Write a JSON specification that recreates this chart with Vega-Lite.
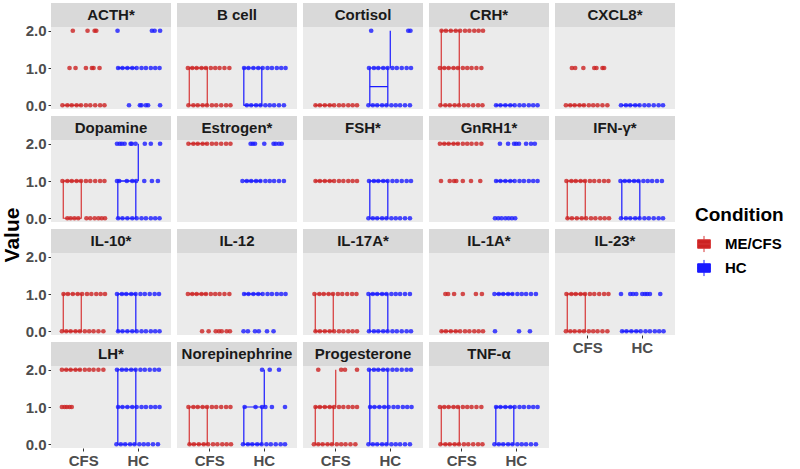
{
"$schema": "https://vega.github.io/schema/vega-lite/v6.json",
"padding": {"left": 2, "top": 2, "right": 0, "bottom": 0},
"autosize": {"type": "pad"},
"title": {"text": "Value", "orient": "left", "anchor": "middle", "fontSize": 21, "fontWeight": "bold", "font": "Liberation Sans", "color": "#000000", "offset": 2},
"data": {"values": [
{"m":"ACTH*","c":"CFS","lo":0,"q1":0,"md":0,"q3":0,"hi":0},
{"m":"ACTH*","c":"HC","lo":1,"q1":1,"md":1,"q3":1,"hi":1},
{"m":"B cell","c":"CFS","lo":0,"q1":0,"md":1,"q3":1,"hi":1},
{"m":"B cell","c":"HC","lo":0,"q1":0,"md":0,"q3":1,"hi":1},
{"m":"Cortisol","c":"CFS","lo":0,"q1":0,"md":0,"q3":0,"hi":0},
{"m":"Cortisol","c":"HC","lo":0,"q1":0,"md":0.5,"q3":1,"hi":2},
{"m":"CRH*","c":"CFS","lo":0,"q1":0,"md":1,"q3":2,"hi":2},
{"m":"CRH*","c":"HC","lo":0,"q1":0,"md":0,"q3":0,"hi":0},
{"m":"CXCL8*","c":"CFS","lo":0,"q1":0,"md":0,"q3":0,"hi":0},
{"m":"CXCL8*","c":"HC","lo":0,"q1":0,"md":0,"q3":0,"hi":0},
{"m":"Dopamine","c":"CFS","lo":0,"q1":0,"md":1,"q3":1,"hi":1},
{"m":"Dopamine","c":"HC","lo":0,"q1":0,"md":1,"q3":1,"hi":2},
{"m":"Estrogen*","c":"CFS","lo":2,"q1":2,"md":2,"q3":2,"hi":2},
{"m":"Estrogen*","c":"HC","lo":1,"q1":1,"md":1,"q3":1,"hi":1},
{"m":"FSH*","c":"CFS","lo":1,"q1":1,"md":1,"q3":1,"hi":1},
{"m":"FSH*","c":"HC","lo":0,"q1":0,"md":1,"q3":1,"hi":1},
{"m":"GnRH1*","c":"CFS","lo":2,"q1":2,"md":2,"q3":2,"hi":2},
{"m":"GnRH1*","c":"HC","lo":1,"q1":1,"md":1,"q3":1,"hi":1},
{"m":"IFN-γ*","c":"CFS","lo":0,"q1":0,"md":1,"q3":1,"hi":1},
{"m":"IFN-γ*","c":"HC","lo":0,"q1":0,"md":1,"q3":1,"hi":1},
{"m":"IL-10*","c":"CFS","lo":0,"q1":0,"md":0,"q3":1,"hi":1},
{"m":"IL-10*","c":"HC","lo":0,"q1":0,"md":1,"q3":1,"hi":1},
{"m":"IL-12","c":"CFS","lo":1,"q1":1,"md":1,"q3":1,"hi":1},
{"m":"IL-12","c":"HC","lo":1,"q1":1,"md":1,"q3":1,"hi":1},
{"m":"IL-17A*","c":"CFS","lo":0,"q1":0,"md":0,"q3":1,"hi":1},
{"m":"IL-17A*","c":"HC","lo":0,"q1":0,"md":1,"q3":1,"hi":1},
{"m":"IL-1A*","c":"CFS","lo":0,"q1":0,"md":0,"q3":0,"hi":0},
{"m":"IL-1A*","c":"HC","lo":1,"q1":1,"md":1,"q3":1,"hi":1},
{"m":"IL-23*","c":"CFS","lo":0,"q1":0,"md":1,"q3":1,"hi":1},
{"m":"IL-23*","c":"HC","lo":0,"q1":0,"md":0,"q3":0,"hi":0},
{"m":"LH*","c":"CFS","lo":2,"q1":2,"md":2,"q3":2,"hi":2},
{"m":"LH*","c":"HC","lo":0,"q1":0,"md":1,"q3":2,"hi":2},
{"m":"Norepinephrine","c":"CFS","lo":0,"q1":0,"md":0,"q3":1,"hi":1},
{"m":"Norepinephrine","c":"HC","lo":0,"q1":0,"md":0,"q3":1,"hi":2},
{"m":"Progesterone","c":"CFS","lo":0,"q1":0,"md":1,"q3":1,"hi":2},
{"m":"Progesterone","c":"HC","lo":0,"q1":0,"md":1,"q3":2,"hi":2},
{"m":"TNF-α","c":"CFS","lo":0,"q1":0,"md":0,"q3":1,"hi":1},
{"m":"TNF-α","c":"HC","lo":0,"q1":0,"md":1,"q3":1,"hi":1},

{"m":"ACTH*","c":"CFS","v":0,"j":-0.39},{"m":"ACTH*","c":"CFS","v":0,"j":-0.3},{"m":"ACTH*","c":"CFS","v":0,"j":-0.22},{"m":"ACTH*","c":"CFS","v":0,"j":-0.13},{"m":"ACTH*","c":"CFS","v":0,"j":-0.05},{"m":"ACTH*","c":"CFS","v":0,"j":0.04},{"m":"ACTH*","c":"CFS","v":0,"j":0.12},{"m":"ACTH*","c":"CFS","v":0,"j":0.21},{"m":"ACTH*","c":"CFS","v":0,"j":0.3},{"m":"ACTH*","c":"CFS","v":0,"j":0.38},
{"m":"ACTH*","c":"CFS","v":1,"j":-0.26},{"m":"ACTH*","c":"CFS","v":1,"j":-0.15},{"m":"ACTH*","c":"CFS","v":1,"j":0.04},{"m":"ACTH*","c":"CFS","v":1,"j":0.15},{"m":"ACTH*","c":"CFS","v":1,"j":0.18},{"m":"ACTH*","c":"CFS","v":1,"j":0.29},
{"m":"ACTH*","c":"CFS","v":2,"j":-0.2},{"m":"ACTH*","c":"CFS","v":2,"j":0.07},{"m":"ACTH*","c":"CFS","v":2,"j":0.2},{"m":"ACTH*","c":"CFS","v":2,"j":0.23},
{"m":"ACTH*","c":"HC","v":1,"j":-0.37},{"m":"ACTH*","c":"HC","v":1,"j":-0.29},{"m":"ACTH*","c":"HC","v":1,"j":-0.2},{"m":"ACTH*","c":"HC","v":1,"j":-0.11},{"m":"ACTH*","c":"HC","v":1,"j":-0.03},{"m":"ACTH*","c":"HC","v":1,"j":0.06},{"m":"ACTH*","c":"HC","v":1,"j":0.14},{"m":"ACTH*","c":"HC","v":1,"j":0.23},{"m":"ACTH*","c":"HC","v":1,"j":0.31},{"m":"ACTH*","c":"HC","v":1,"j":0.39},
{"m":"ACTH*","c":"HC","v":0,"j":-0.17},{"m":"ACTH*","c":"HC","v":0,"j":0.03},{"m":"ACTH*","c":"HC","v":0,"j":0.06},{"m":"ACTH*","c":"HC","v":0,"j":0.14},{"m":"ACTH*","c":"HC","v":0,"j":0.18},{"m":"ACTH*","c":"HC","v":0,"j":0.4},
{"m":"ACTH*","c":"HC","v":2,"j":-0.38},{"m":"ACTH*","c":"HC","v":2,"j":0.25},{"m":"ACTH*","c":"HC","v":2,"j":0.3},{"m":"ACTH*","c":"HC","v":2,"j":0.4},

{"m":"B cell","c":"CFS","v":1,"j":-0.4},{"m":"B cell","c":"CFS","v":1,"j":-0.32},{"m":"B cell","c":"CFS","v":1,"j":-0.24},{"m":"B cell","c":"CFS","v":1,"j":-0.15},{"m":"B cell","c":"CFS","v":1,"j":-0.07},{"m":"B cell","c":"CFS","v":1,"j":0.02},{"m":"B cell","c":"CFS","v":1,"j":0.1},{"m":"B cell","c":"CFS","v":1,"j":0.18},{"m":"B cell","c":"CFS","v":1,"j":0.27},{"m":"B cell","c":"CFS","v":1,"j":0.36},
{"m":"B cell","c":"CFS","v":0,"j":-0.39},{"m":"B cell","c":"CFS","v":0,"j":-0.3},{"m":"B cell","c":"CFS","v":0,"j":-0.22},{"m":"B cell","c":"CFS","v":0,"j":-0.13},{"m":"B cell","c":"CFS","v":0,"j":-0.05},{"m":"B cell","c":"CFS","v":0,"j":0.04},{"m":"B cell","c":"CFS","v":0,"j":0.12},{"m":"B cell","c":"CFS","v":0,"j":0.21},{"m":"B cell","c":"CFS","v":0,"j":0.3},{"m":"B cell","c":"CFS","v":0,"j":0.38},
{"m":"B cell","c":"HC","v":1,"j":-0.37},{"m":"B cell","c":"HC","v":1,"j":-0.29},{"m":"B cell","c":"HC","v":1,"j":-0.2},{"m":"B cell","c":"HC","v":1,"j":-0.11},{"m":"B cell","c":"HC","v":1,"j":-0.03},{"m":"B cell","c":"HC","v":1,"j":0.06},{"m":"B cell","c":"HC","v":1,"j":0.14},{"m":"B cell","c":"HC","v":1,"j":0.23},{"m":"B cell","c":"HC","v":1,"j":0.31},{"m":"B cell","c":"HC","v":1,"j":0.39},
{"m":"B cell","c":"HC","v":0,"j":-0.32},{"m":"B cell","c":"HC","v":0,"j":-0.24},{"m":"B cell","c":"HC","v":0,"j":-0.15},{"m":"B cell","c":"HC","v":0,"j":-0.07},{"m":"B cell","c":"HC","v":0,"j":0.02},{"m":"B cell","c":"HC","v":0,"j":0.1},{"m":"B cell","c":"HC","v":0,"j":0.18},{"m":"B cell","c":"HC","v":0,"j":0.27},{"m":"B cell","c":"HC","v":0,"j":0.36},

{"m":"Cortisol","c":"CFS","v":0,"j":-0.37},{"m":"Cortisol","c":"CFS","v":0,"j":-0.29},{"m":"Cortisol","c":"CFS","v":0,"j":-0.2},{"m":"Cortisol","c":"CFS","v":0,"j":-0.11},{"m":"Cortisol","c":"CFS","v":0,"j":-0.03},{"m":"Cortisol","c":"CFS","v":0,"j":0.06},{"m":"Cortisol","c":"CFS","v":0,"j":0.14},{"m":"Cortisol","c":"CFS","v":0,"j":0.23},{"m":"Cortisol","c":"CFS","v":0,"j":0.31},{"m":"Cortisol","c":"CFS","v":0,"j":0.39},
{"m":"Cortisol","c":"HC","v":2,"j":-0.35},{"m":"Cortisol","c":"HC","v":2,"j":0.33},{"m":"Cortisol","c":"HC","v":2,"j":0.37},
{"m":"Cortisol","c":"HC","v":1,"j":-0.39},{"m":"Cortisol","c":"HC","v":1,"j":-0.3},{"m":"Cortisol","c":"HC","v":1,"j":-0.22},{"m":"Cortisol","c":"HC","v":1,"j":-0.13},{"m":"Cortisol","c":"HC","v":1,"j":-0.05},{"m":"Cortisol","c":"HC","v":1,"j":0.04},{"m":"Cortisol","c":"HC","v":1,"j":0.12},{"m":"Cortisol","c":"HC","v":1,"j":0.21},{"m":"Cortisol","c":"HC","v":1,"j":0.3},{"m":"Cortisol","c":"HC","v":1,"j":0.38},
{"m":"Cortisol","c":"HC","v":0,"j":-0.4},{"m":"Cortisol","c":"HC","v":0,"j":-0.32},{"m":"Cortisol","c":"HC","v":0,"j":-0.24},{"m":"Cortisol","c":"HC","v":0,"j":-0.15},{"m":"Cortisol","c":"HC","v":0,"j":-0.07},{"m":"Cortisol","c":"HC","v":0,"j":0.02},{"m":"Cortisol","c":"HC","v":0,"j":0.1},{"m":"Cortisol","c":"HC","v":0,"j":0.18},{"m":"Cortisol","c":"HC","v":0,"j":0.27},{"m":"Cortisol","c":"HC","v":0,"j":0.36},

{"m":"CRH*","c":"CFS","v":2,"j":-0.37},{"m":"CRH*","c":"CFS","v":2,"j":-0.29},{"m":"CRH*","c":"CFS","v":2,"j":-0.2},{"m":"CRH*","c":"CFS","v":2,"j":-0.11},{"m":"CRH*","c":"CFS","v":2,"j":-0.03},{"m":"CRH*","c":"CFS","v":2,"j":0.06},{"m":"CRH*","c":"CFS","v":2,"j":0.14},{"m":"CRH*","c":"CFS","v":2,"j":0.23},{"m":"CRH*","c":"CFS","v":2,"j":0.31},{"m":"CRH*","c":"CFS","v":2,"j":0.39},
{"m":"CRH*","c":"CFS","v":1,"j":-0.4},{"m":"CRH*","c":"CFS","v":1,"j":-0.32},{"m":"CRH*","c":"CFS","v":1,"j":-0.24},{"m":"CRH*","c":"CFS","v":1,"j":-0.15},{"m":"CRH*","c":"CFS","v":1,"j":-0.07},{"m":"CRH*","c":"CFS","v":1,"j":0.02},{"m":"CRH*","c":"CFS","v":1,"j":0.1},{"m":"CRH*","c":"CFS","v":1,"j":0.18},{"m":"CRH*","c":"CFS","v":1,"j":0.27},{"m":"CRH*","c":"CFS","v":1,"j":0.36},
{"m":"CRH*","c":"CFS","v":0,"j":-0.39},{"m":"CRH*","c":"CFS","v":0,"j":-0.3},{"m":"CRH*","c":"CFS","v":0,"j":-0.22},{"m":"CRH*","c":"CFS","v":0,"j":-0.13},{"m":"CRH*","c":"CFS","v":0,"j":-0.05},{"m":"CRH*","c":"CFS","v":0,"j":0.04},{"m":"CRH*","c":"CFS","v":0,"j":0.12},{"m":"CRH*","c":"CFS","v":0,"j":0.21},{"m":"CRH*","c":"CFS","v":0,"j":0.3},{"m":"CRH*","c":"CFS","v":0,"j":0.38},
{"m":"CRH*","c":"HC","v":0,"j":-0.37},{"m":"CRH*","c":"HC","v":0,"j":-0.29},{"m":"CRH*","c":"HC","v":0,"j":-0.2},{"m":"CRH*","c":"HC","v":0,"j":-0.11},{"m":"CRH*","c":"HC","v":0,"j":-0.03},{"m":"CRH*","c":"HC","v":0,"j":0.06},{"m":"CRH*","c":"HC","v":0,"j":0.14},{"m":"CRH*","c":"HC","v":0,"j":0.23},{"m":"CRH*","c":"HC","v":0,"j":0.31},{"m":"CRH*","c":"HC","v":0,"j":0.39},

{"m":"CXCL8*","c":"CFS","v":0,"j":-0.4},{"m":"CXCL8*","c":"CFS","v":0,"j":-0.32},{"m":"CXCL8*","c":"CFS","v":0,"j":-0.24},{"m":"CXCL8*","c":"CFS","v":0,"j":-0.15},{"m":"CXCL8*","c":"CFS","v":0,"j":-0.07},{"m":"CXCL8*","c":"CFS","v":0,"j":0.02},{"m":"CXCL8*","c":"CFS","v":0,"j":0.1},{"m":"CXCL8*","c":"CFS","v":0,"j":0.18},{"m":"CXCL8*","c":"CFS","v":0,"j":0.27},{"m":"CXCL8*","c":"CFS","v":0,"j":0.36},
{"m":"CXCL8*","c":"CFS","v":1,"j":-0.29},{"m":"CXCL8*","c":"CFS","v":1,"j":-0.23},{"m":"CXCL8*","c":"CFS","v":1,"j":-0.08},{"m":"CXCL8*","c":"CFS","v":1,"j":0.12},{"m":"CXCL8*","c":"CFS","v":1,"j":0.16},{"m":"CXCL8*","c":"CFS","v":1,"j":0.27},{"m":"CXCL8*","c":"CFS","v":1,"j":0.3},
{"m":"CXCL8*","c":"HC","v":0,"j":-0.39},{"m":"CXCL8*","c":"HC","v":0,"j":-0.3},{"m":"CXCL8*","c":"HC","v":0,"j":-0.22},{"m":"CXCL8*","c":"HC","v":0,"j":-0.13},{"m":"CXCL8*","c":"HC","v":0,"j":-0.05},{"m":"CXCL8*","c":"HC","v":0,"j":0.04},{"m":"CXCL8*","c":"HC","v":0,"j":0.12},{"m":"CXCL8*","c":"HC","v":0,"j":0.21},{"m":"CXCL8*","c":"HC","v":0,"j":0.3},{"m":"CXCL8*","c":"HC","v":0,"j":0.38},

{"m":"Dopamine","c":"CFS","v":1,"j":-0.39},{"m":"Dopamine","c":"CFS","v":1,"j":-0.3},{"m":"Dopamine","c":"CFS","v":1,"j":-0.22},{"m":"Dopamine","c":"CFS","v":1,"j":-0.13},{"m":"Dopamine","c":"CFS","v":1,"j":-0.05},{"m":"Dopamine","c":"CFS","v":1,"j":0.04},{"m":"Dopamine","c":"CFS","v":1,"j":0.12},{"m":"Dopamine","c":"CFS","v":1,"j":0.21},{"m":"Dopamine","c":"CFS","v":1,"j":0.3},{"m":"Dopamine","c":"CFS","v":1,"j":0.38},
{"m":"Dopamine","c":"CFS","v":0,"j":-0.3},{"m":"Dopamine","c":"CFS","v":0,"j":-0.24},{"m":"Dopamine","c":"CFS","v":0,"j":-0.17},{"m":"Dopamine","c":"CFS","v":0,"j":-0.1},{"m":"Dopamine","c":"CFS","v":0,"j":0.05},{"m":"Dopamine","c":"CFS","v":0,"j":0.12},{"m":"Dopamine","c":"CFS","v":0,"j":0.2},{"m":"Dopamine","c":"CFS","v":0,"j":0.27},{"m":"Dopamine","c":"CFS","v":0,"j":0.33},{"m":"Dopamine","c":"CFS","v":0,"j":0.39},
{"m":"Dopamine","c":"HC","v":2,"j":-0.39},{"m":"Dopamine","c":"HC","v":2,"j":-0.34},{"m":"Dopamine","c":"HC","v":2,"j":-0.3},{"m":"Dopamine","c":"HC","v":2,"j":-0.25},{"m":"Dopamine","c":"HC","v":2,"j":-0.14},{"m":"Dopamine","c":"HC","v":2,"j":-0.12},{"m":"Dopamine","c":"HC","v":2,"j":-0.05},{"m":"Dopamine","c":"HC","v":2,"j":0.12},{"m":"Dopamine","c":"HC","v":2,"j":0.23},{"m":"Dopamine","c":"HC","v":2,"j":0.4},
{"m":"Dopamine","c":"HC","v":1,"j":-0.39},{"m":"Dopamine","c":"HC","v":1,"j":-0.35},{"m":"Dopamine","c":"HC","v":1,"j":-0.21},{"m":"Dopamine","c":"HC","v":1,"j":-0.11},{"m":"Dopamine","c":"HC","v":1,"j":-0.04},{"m":"Dopamine","c":"HC","v":1,"j":0.11},{"m":"Dopamine","c":"HC","v":1,"j":0.25},{"m":"Dopamine","c":"HC","v":1,"j":0.36},
{"m":"Dopamine","c":"HC","v":0,"j":-0.37},{"m":"Dopamine","c":"HC","v":0,"j":-0.29},{"m":"Dopamine","c":"HC","v":0,"j":-0.2},{"m":"Dopamine","c":"HC","v":0,"j":-0.11},{"m":"Dopamine","c":"HC","v":0,"j":-0.03},{"m":"Dopamine","c":"HC","v":0,"j":0.06},{"m":"Dopamine","c":"HC","v":0,"j":0.14},{"m":"Dopamine","c":"HC","v":0,"j":0.23},{"m":"Dopamine","c":"HC","v":0,"j":0.31},{"m":"Dopamine","c":"HC","v":0,"j":0.39},

{"m":"Estrogen*","c":"CFS","v":2,"j":-0.39},{"m":"Estrogen*","c":"CFS","v":2,"j":-0.3},{"m":"Estrogen*","c":"CFS","v":2,"j":-0.22},{"m":"Estrogen*","c":"CFS","v":2,"j":-0.13},{"m":"Estrogen*","c":"CFS","v":2,"j":-0.05},{"m":"Estrogen*","c":"CFS","v":2,"j":0.04},{"m":"Estrogen*","c":"CFS","v":2,"j":0.12},{"m":"Estrogen*","c":"CFS","v":2,"j":0.21},{"m":"Estrogen*","c":"CFS","v":2,"j":0.3},{"m":"Estrogen*","c":"CFS","v":2,"j":0.38},
{"m":"Estrogen*","c":"HC","v":1,"j":-0.4},{"m":"Estrogen*","c":"HC","v":1,"j":-0.32},{"m":"Estrogen*","c":"HC","v":1,"j":-0.24},{"m":"Estrogen*","c":"HC","v":1,"j":-0.15},{"m":"Estrogen*","c":"HC","v":1,"j":-0.07},{"m":"Estrogen*","c":"HC","v":1,"j":0.02},{"m":"Estrogen*","c":"HC","v":1,"j":0.1},{"m":"Estrogen*","c":"HC","v":1,"j":0.18},{"m":"Estrogen*","c":"HC","v":1,"j":0.27},{"m":"Estrogen*","c":"HC","v":1,"j":0.36},
{"m":"Estrogen*","c":"HC","v":2,"j":-0.25},{"m":"Estrogen*","c":"HC","v":2,"j":-0.21},{"m":"Estrogen*","c":"HC","v":2,"j":-0.17},{"m":"Estrogen*","c":"HC","v":2,"j":0},{"m":"Estrogen*","c":"HC","v":2,"j":0.17},{"m":"Estrogen*","c":"HC","v":2,"j":0.21},{"m":"Estrogen*","c":"HC","v":2,"j":0.27},{"m":"Estrogen*","c":"HC","v":2,"j":0.32},

{"m":"FSH*","c":"CFS","v":1,"j":-0.37},{"m":"FSH*","c":"CFS","v":1,"j":-0.29},{"m":"FSH*","c":"CFS","v":1,"j":-0.2},{"m":"FSH*","c":"CFS","v":1,"j":-0.11},{"m":"FSH*","c":"CFS","v":1,"j":-0.03},{"m":"FSH*","c":"CFS","v":1,"j":0.06},{"m":"FSH*","c":"CFS","v":1,"j":0.14},{"m":"FSH*","c":"CFS","v":1,"j":0.23},{"m":"FSH*","c":"CFS","v":1,"j":0.31},{"m":"FSH*","c":"CFS","v":1,"j":0.39},
{"m":"FSH*","c":"HC","v":1,"j":-0.39},{"m":"FSH*","c":"HC","v":1,"j":-0.3},{"m":"FSH*","c":"HC","v":1,"j":-0.22},{"m":"FSH*","c":"HC","v":1,"j":-0.13},{"m":"FSH*","c":"HC","v":1,"j":-0.05},{"m":"FSH*","c":"HC","v":1,"j":0.04},{"m":"FSH*","c":"HC","v":1,"j":0.12},{"m":"FSH*","c":"HC","v":1,"j":0.21},{"m":"FSH*","c":"HC","v":1,"j":0.3},{"m":"FSH*","c":"HC","v":1,"j":0.38},
{"m":"FSH*","c":"HC","v":0,"j":-0.4},{"m":"FSH*","c":"HC","v":0,"j":-0.32},{"m":"FSH*","c":"HC","v":0,"j":-0.24},{"m":"FSH*","c":"HC","v":0,"j":-0.15},{"m":"FSH*","c":"HC","v":0,"j":-0.07},{"m":"FSH*","c":"HC","v":0,"j":0.02},{"m":"FSH*","c":"HC","v":0,"j":0.1},{"m":"FSH*","c":"HC","v":0,"j":0.18},{"m":"FSH*","c":"HC","v":0,"j":0.27},{"m":"FSH*","c":"HC","v":0,"j":0.36},

{"m":"GnRH1*","c":"CFS","v":2,"j":-0.4},{"m":"GnRH1*","c":"CFS","v":2,"j":-0.32},{"m":"GnRH1*","c":"CFS","v":2,"j":-0.24},{"m":"GnRH1*","c":"CFS","v":2,"j":-0.15},{"m":"GnRH1*","c":"CFS","v":2,"j":-0.07},{"m":"GnRH1*","c":"CFS","v":2,"j":0.02},{"m":"GnRH1*","c":"CFS","v":2,"j":0.1},{"m":"GnRH1*","c":"CFS","v":2,"j":0.18},{"m":"GnRH1*","c":"CFS","v":2,"j":0.27},{"m":"GnRH1*","c":"CFS","v":2,"j":0.36},
{"m":"GnRH1*","c":"CFS","v":1,"j":-0.38},{"m":"GnRH1*","c":"CFS","v":1,"j":-0.22},{"m":"GnRH1*","c":"CFS","v":1,"j":-0.14},{"m":"GnRH1*","c":"CFS","v":1,"j":-0.1},{"m":"GnRH1*","c":"CFS","v":1,"j":0.02},{"m":"GnRH1*","c":"CFS","v":1,"j":0.17},{"m":"GnRH1*","c":"CFS","v":1,"j":0.34},
{"m":"GnRH1*","c":"HC","v":2,"j":-0.3},{"m":"GnRH1*","c":"HC","v":2,"j":-0.15},{"m":"GnRH1*","c":"HC","v":2,"j":-0.04},{"m":"GnRH1*","c":"HC","v":2,"j":0},{"m":"GnRH1*","c":"HC","v":2,"j":0.05},{"m":"GnRH1*","c":"HC","v":2,"j":0.18},{"m":"GnRH1*","c":"HC","v":2,"j":0.27},{"m":"GnRH1*","c":"HC","v":2,"j":0.34},
{"m":"GnRH1*","c":"HC","v":1,"j":-0.37},{"m":"GnRH1*","c":"HC","v":1,"j":-0.29},{"m":"GnRH1*","c":"HC","v":1,"j":-0.2},{"m":"GnRH1*","c":"HC","v":1,"j":-0.11},{"m":"GnRH1*","c":"HC","v":1,"j":-0.03},{"m":"GnRH1*","c":"HC","v":1,"j":0.06},{"m":"GnRH1*","c":"HC","v":1,"j":0.14},{"m":"GnRH1*","c":"HC","v":1,"j":0.23},{"m":"GnRH1*","c":"HC","v":1,"j":0.31},{"m":"GnRH1*","c":"HC","v":1,"j":0.39},
{"m":"GnRH1*","c":"HC","v":0,"j":-0.39},{"m":"GnRH1*","c":"HC","v":0,"j":-0.33},{"m":"GnRH1*","c":"HC","v":0,"j":-0.27},{"m":"GnRH1*","c":"HC","v":0,"j":-0.2},{"m":"GnRH1*","c":"HC","v":0,"j":-0.14},{"m":"GnRH1*","c":"HC","v":0,"j":-0.08},{"m":"GnRH1*","c":"HC","v":0,"j":-0.02},

{"m":"IFN-γ*","c":"CFS","v":1,"j":-0.39},{"m":"IFN-γ*","c":"CFS","v":1,"j":-0.3},{"m":"IFN-γ*","c":"CFS","v":1,"j":-0.22},{"m":"IFN-γ*","c":"CFS","v":1,"j":-0.13},{"m":"IFN-γ*","c":"CFS","v":1,"j":-0.05},{"m":"IFN-γ*","c":"CFS","v":1,"j":0.04},{"m":"IFN-γ*","c":"CFS","v":1,"j":0.12},{"m":"IFN-γ*","c":"CFS","v":1,"j":0.21},{"m":"IFN-γ*","c":"CFS","v":1,"j":0.3},{"m":"IFN-γ*","c":"CFS","v":1,"j":0.38},
{"m":"IFN-γ*","c":"CFS","v":0,"j":-0.37},{"m":"IFN-γ*","c":"CFS","v":0,"j":-0.29},{"m":"IFN-γ*","c":"CFS","v":0,"j":-0.2},{"m":"IFN-γ*","c":"CFS","v":0,"j":-0.11},{"m":"IFN-γ*","c":"CFS","v":0,"j":-0.03},{"m":"IFN-γ*","c":"CFS","v":0,"j":0.06},{"m":"IFN-γ*","c":"CFS","v":0,"j":0.14},{"m":"IFN-γ*","c":"CFS","v":0,"j":0.23},{"m":"IFN-γ*","c":"CFS","v":0,"j":0.31},{"m":"IFN-γ*","c":"CFS","v":0,"j":0.39},
{"m":"IFN-γ*","c":"HC","v":1,"j":-0.4},{"m":"IFN-γ*","c":"HC","v":1,"j":-0.32},{"m":"IFN-γ*","c":"HC","v":1,"j":-0.24},{"m":"IFN-γ*","c":"HC","v":1,"j":-0.15},{"m":"IFN-γ*","c":"HC","v":1,"j":-0.07},{"m":"IFN-γ*","c":"HC","v":1,"j":0.02},{"m":"IFN-γ*","c":"HC","v":1,"j":0.1},{"m":"IFN-γ*","c":"HC","v":1,"j":0.18},{"m":"IFN-γ*","c":"HC","v":1,"j":0.27},{"m":"IFN-γ*","c":"HC","v":1,"j":0.36},
{"m":"IFN-γ*","c":"HC","v":0,"j":-0.39},{"m":"IFN-γ*","c":"HC","v":0,"j":-0.3},{"m":"IFN-γ*","c":"HC","v":0,"j":-0.22},{"m":"IFN-γ*","c":"HC","v":0,"j":-0.13},{"m":"IFN-γ*","c":"HC","v":0,"j":-0.05},{"m":"IFN-γ*","c":"HC","v":0,"j":0.04},{"m":"IFN-γ*","c":"HC","v":0,"j":0.12},{"m":"IFN-γ*","c":"HC","v":0,"j":0.21},{"m":"IFN-γ*","c":"HC","v":0,"j":0.3},{"m":"IFN-γ*","c":"HC","v":0,"j":0.38},

{"m":"IL-10*","c":"CFS","v":1,"j":-0.37},{"m":"IL-10*","c":"CFS","v":1,"j":-0.29},{"m":"IL-10*","c":"CFS","v":1,"j":-0.2},{"m":"IL-10*","c":"CFS","v":1,"j":-0.11},{"m":"IL-10*","c":"CFS","v":1,"j":-0.03},{"m":"IL-10*","c":"CFS","v":1,"j":0.06},{"m":"IL-10*","c":"CFS","v":1,"j":0.14},{"m":"IL-10*","c":"CFS","v":1,"j":0.23},{"m":"IL-10*","c":"CFS","v":1,"j":0.31},{"m":"IL-10*","c":"CFS","v":1,"j":0.39},
{"m":"IL-10*","c":"CFS","v":0,"j":-0.4},{"m":"IL-10*","c":"CFS","v":0,"j":-0.32},{"m":"IL-10*","c":"CFS","v":0,"j":-0.24},{"m":"IL-10*","c":"CFS","v":0,"j":-0.15},{"m":"IL-10*","c":"CFS","v":0,"j":-0.07},{"m":"IL-10*","c":"CFS","v":0,"j":0.02},{"m":"IL-10*","c":"CFS","v":0,"j":0.1},{"m":"IL-10*","c":"CFS","v":0,"j":0.18},{"m":"IL-10*","c":"CFS","v":0,"j":0.27},{"m":"IL-10*","c":"CFS","v":0,"j":0.36},
{"m":"IL-10*","c":"HC","v":1,"j":-0.39},{"m":"IL-10*","c":"HC","v":1,"j":-0.3},{"m":"IL-10*","c":"HC","v":1,"j":-0.22},{"m":"IL-10*","c":"HC","v":1,"j":-0.13},{"m":"IL-10*","c":"HC","v":1,"j":-0.05},{"m":"IL-10*","c":"HC","v":1,"j":0.04},{"m":"IL-10*","c":"HC","v":1,"j":0.12},{"m":"IL-10*","c":"HC","v":1,"j":0.21},{"m":"IL-10*","c":"HC","v":1,"j":0.3},{"m":"IL-10*","c":"HC","v":1,"j":0.38},
{"m":"IL-10*","c":"HC","v":0,"j":-0.37},{"m":"IL-10*","c":"HC","v":0,"j":-0.29},{"m":"IL-10*","c":"HC","v":0,"j":-0.2},{"m":"IL-10*","c":"HC","v":0,"j":-0.11},{"m":"IL-10*","c":"HC","v":0,"j":-0.03},{"m":"IL-10*","c":"HC","v":0,"j":0.06},{"m":"IL-10*","c":"HC","v":0,"j":0.14},{"m":"IL-10*","c":"HC","v":0,"j":0.23},{"m":"IL-10*","c":"HC","v":0,"j":0.31},{"m":"IL-10*","c":"HC","v":0,"j":0.39},

{"m":"IL-12","c":"CFS","v":1,"j":-0.4},{"m":"IL-12","c":"CFS","v":1,"j":-0.32},{"m":"IL-12","c":"CFS","v":1,"j":-0.24},{"m":"IL-12","c":"CFS","v":1,"j":-0.15},{"m":"IL-12","c":"CFS","v":1,"j":-0.07},{"m":"IL-12","c":"CFS","v":1,"j":0.02},{"m":"IL-12","c":"CFS","v":1,"j":0.1},{"m":"IL-12","c":"CFS","v":1,"j":0.18},{"m":"IL-12","c":"CFS","v":1,"j":0.27},{"m":"IL-12","c":"CFS","v":1,"j":0.36},
{"m":"IL-12","c":"CFS","v":0,"j":-0.14},{"m":"IL-12","c":"CFS","v":0,"j":-0.02},{"m":"IL-12","c":"CFS","v":0,"j":0.11},{"m":"IL-12","c":"CFS","v":0,"j":0.17},{"m":"IL-12","c":"CFS","v":0,"j":0.22},{"m":"IL-12","c":"CFS","v":0,"j":0.31},{"m":"IL-12","c":"CFS","v":0,"j":0.37},
{"m":"IL-12","c":"HC","v":1,"j":-0.37},{"m":"IL-12","c":"HC","v":1,"j":-0.29},{"m":"IL-12","c":"HC","v":1,"j":-0.2},{"m":"IL-12","c":"HC","v":1,"j":-0.11},{"m":"IL-12","c":"HC","v":1,"j":-0.03},{"m":"IL-12","c":"HC","v":1,"j":0.06},{"m":"IL-12","c":"HC","v":1,"j":0.14},{"m":"IL-12","c":"HC","v":1,"j":0.23},{"m":"IL-12","c":"HC","v":1,"j":0.31},{"m":"IL-12","c":"HC","v":1,"j":0.39},
{"m":"IL-12","c":"HC","v":0,"j":-0.38},{"m":"IL-12","c":"HC","v":0,"j":-0.3},{"m":"IL-12","c":"HC","v":0,"j":-0.17},{"m":"IL-12","c":"HC","v":0,"j":-0.1},{"m":"IL-12","c":"HC","v":0,"j":0.05},{"m":"IL-12","c":"HC","v":0,"j":0.17},

{"m":"IL-17A*","c":"CFS","v":1,"j":-0.39},{"m":"IL-17A*","c":"CFS","v":1,"j":-0.3},{"m":"IL-17A*","c":"CFS","v":1,"j":-0.22},{"m":"IL-17A*","c":"CFS","v":1,"j":-0.13},{"m":"IL-17A*","c":"CFS","v":1,"j":-0.05},{"m":"IL-17A*","c":"CFS","v":1,"j":0.04},{"m":"IL-17A*","c":"CFS","v":1,"j":0.12},{"m":"IL-17A*","c":"CFS","v":1,"j":0.21},{"m":"IL-17A*","c":"CFS","v":1,"j":0.3},{"m":"IL-17A*","c":"CFS","v":1,"j":0.38},
{"m":"IL-17A*","c":"CFS","v":0,"j":-0.37},{"m":"IL-17A*","c":"CFS","v":0,"j":-0.29},{"m":"IL-17A*","c":"CFS","v":0,"j":-0.2},{"m":"IL-17A*","c":"CFS","v":0,"j":-0.11},{"m":"IL-17A*","c":"CFS","v":0,"j":-0.03},{"m":"IL-17A*","c":"CFS","v":0,"j":0.06},{"m":"IL-17A*","c":"CFS","v":0,"j":0.14},{"m":"IL-17A*","c":"CFS","v":0,"j":0.23},{"m":"IL-17A*","c":"CFS","v":0,"j":0.31},{"m":"IL-17A*","c":"CFS","v":0,"j":0.39},
{"m":"IL-17A*","c":"HC","v":1,"j":-0.4},{"m":"IL-17A*","c":"HC","v":1,"j":-0.32},{"m":"IL-17A*","c":"HC","v":1,"j":-0.24},{"m":"IL-17A*","c":"HC","v":1,"j":-0.15},{"m":"IL-17A*","c":"HC","v":1,"j":-0.07},{"m":"IL-17A*","c":"HC","v":1,"j":0.02},{"m":"IL-17A*","c":"HC","v":1,"j":0.1},{"m":"IL-17A*","c":"HC","v":1,"j":0.18},{"m":"IL-17A*","c":"HC","v":1,"j":0.27},{"m":"IL-17A*","c":"HC","v":1,"j":0.36},
{"m":"IL-17A*","c":"HC","v":0,"j":-0.39},{"m":"IL-17A*","c":"HC","v":0,"j":-0.3},{"m":"IL-17A*","c":"HC","v":0,"j":-0.22},{"m":"IL-17A*","c":"HC","v":0,"j":-0.13},{"m":"IL-17A*","c":"HC","v":0,"j":-0.05},{"m":"IL-17A*","c":"HC","v":0,"j":0.04},{"m":"IL-17A*","c":"HC","v":0,"j":0.12},{"m":"IL-17A*","c":"HC","v":0,"j":0.21},{"m":"IL-17A*","c":"HC","v":0,"j":0.3},{"m":"IL-17A*","c":"HC","v":0,"j":0.38},

{"m":"IL-1A*","c":"CFS","v":0,"j":-0.37},{"m":"IL-1A*","c":"CFS","v":0,"j":-0.29},{"m":"IL-1A*","c":"CFS","v":0,"j":-0.2},{"m":"IL-1A*","c":"CFS","v":0,"j":-0.11},{"m":"IL-1A*","c":"CFS","v":0,"j":-0.03},{"m":"IL-1A*","c":"CFS","v":0,"j":0.06},{"m":"IL-1A*","c":"CFS","v":0,"j":0.14},{"m":"IL-1A*","c":"CFS","v":0,"j":0.23},{"m":"IL-1A*","c":"CFS","v":0,"j":0.31},{"m":"IL-1A*","c":"CFS","v":0,"j":0.39},
{"m":"IL-1A*","c":"CFS","v":1,"j":-0.3},{"m":"IL-1A*","c":"CFS","v":1,"j":-0.25},{"m":"IL-1A*","c":"CFS","v":1,"j":-0.14},{"m":"IL-1A*","c":"CFS","v":1,"j":0.02},{"m":"IL-1A*","c":"CFS","v":1,"j":0.26},{"m":"IL-1A*","c":"CFS","v":1,"j":0.37},
{"m":"IL-1A*","c":"HC","v":1,"j":-0.4},{"m":"IL-1A*","c":"HC","v":1,"j":-0.32},{"m":"IL-1A*","c":"HC","v":1,"j":-0.24},{"m":"IL-1A*","c":"HC","v":1,"j":-0.15},{"m":"IL-1A*","c":"HC","v":1,"j":-0.07},{"m":"IL-1A*","c":"HC","v":1,"j":0.02},{"m":"IL-1A*","c":"HC","v":1,"j":0.1},{"m":"IL-1A*","c":"HC","v":1,"j":0.18},{"m":"IL-1A*","c":"HC","v":1,"j":0.27},{"m":"IL-1A*","c":"HC","v":1,"j":0.36},
{"m":"IL-1A*","c":"HC","v":0,"j":-0.39},{"m":"IL-1A*","c":"HC","v":0,"j":0.05},{"m":"IL-1A*","c":"HC","v":0,"j":0.25},

{"m":"IL-23*","c":"CFS","v":1,"j":-0.39},{"m":"IL-23*","c":"CFS","v":1,"j":-0.3},{"m":"IL-23*","c":"CFS","v":1,"j":-0.22},{"m":"IL-23*","c":"CFS","v":1,"j":-0.13},{"m":"IL-23*","c":"CFS","v":1,"j":-0.05},{"m":"IL-23*","c":"CFS","v":1,"j":0.04},{"m":"IL-23*","c":"CFS","v":1,"j":0.12},{"m":"IL-23*","c":"CFS","v":1,"j":0.21},{"m":"IL-23*","c":"CFS","v":1,"j":0.3},{"m":"IL-23*","c":"CFS","v":1,"j":0.38},
{"m":"IL-23*","c":"CFS","v":0,"j":-0.4},{"m":"IL-23*","c":"CFS","v":0,"j":-0.32},{"m":"IL-23*","c":"CFS","v":0,"j":-0.24},{"m":"IL-23*","c":"CFS","v":0,"j":-0.15},{"m":"IL-23*","c":"CFS","v":0,"j":-0.07},{"m":"IL-23*","c":"CFS","v":0,"j":0.02},{"m":"IL-23*","c":"CFS","v":0,"j":0.1},{"m":"IL-23*","c":"CFS","v":0,"j":0.18},{"m":"IL-23*","c":"CFS","v":0,"j":0.27},{"m":"IL-23*","c":"CFS","v":0,"j":0.36},
{"m":"IL-23*","c":"HC","v":0,"j":-0.37},{"m":"IL-23*","c":"HC","v":0,"j":-0.29},{"m":"IL-23*","c":"HC","v":0,"j":-0.2},{"m":"IL-23*","c":"HC","v":0,"j":-0.11},{"m":"IL-23*","c":"HC","v":0,"j":-0.03},{"m":"IL-23*","c":"HC","v":0,"j":0.06},{"m":"IL-23*","c":"HC","v":0,"j":0.14},{"m":"IL-23*","c":"HC","v":0,"j":0.23},{"m":"IL-23*","c":"HC","v":0,"j":0.31},{"m":"IL-23*","c":"HC","v":0,"j":0.39},
{"m":"IL-23*","c":"HC","v":1,"j":-0.39},{"m":"IL-23*","c":"HC","v":1,"j":-0.22},{"m":"IL-23*","c":"HC","v":1,"j":-0.17},{"m":"IL-23*","c":"HC","v":1,"j":-0.11},{"m":"IL-23*","c":"HC","v":1,"j":0},{"m":"IL-23*","c":"HC","v":1,"j":0.05},{"m":"IL-23*","c":"HC","v":1,"j":0.09},{"m":"IL-23*","c":"HC","v":1,"j":0.14},{"m":"IL-23*","c":"HC","v":1,"j":0.33},

{"m":"LH*","c":"CFS","v":2,"j":-0.4},{"m":"LH*","c":"CFS","v":2,"j":-0.32},{"m":"LH*","c":"CFS","v":2,"j":-0.24},{"m":"LH*","c":"CFS","v":2,"j":-0.15},{"m":"LH*","c":"CFS","v":2,"j":-0.07},{"m":"LH*","c":"CFS","v":2,"j":0.02},{"m":"LH*","c":"CFS","v":2,"j":0.1},{"m":"LH*","c":"CFS","v":2,"j":0.18},{"m":"LH*","c":"CFS","v":2,"j":0.27},{"m":"LH*","c":"CFS","v":2,"j":0.36},
{"m":"LH*","c":"CFS","v":1,"j":-0.4},{"m":"LH*","c":"CFS","v":1,"j":-0.35},{"m":"LH*","c":"CFS","v":1,"j":-0.31},{"m":"LH*","c":"CFS","v":1,"j":-0.26},{"m":"LH*","c":"CFS","v":1,"j":-0.22},
{"m":"LH*","c":"HC","v":2,"j":-0.39},{"m":"LH*","c":"HC","v":2,"j":-0.3},{"m":"LH*","c":"HC","v":2,"j":-0.22},{"m":"LH*","c":"HC","v":2,"j":-0.13},{"m":"LH*","c":"HC","v":2,"j":-0.05},{"m":"LH*","c":"HC","v":2,"j":0.04},{"m":"LH*","c":"HC","v":2,"j":0.12},{"m":"LH*","c":"HC","v":2,"j":0.21},{"m":"LH*","c":"HC","v":2,"j":0.3},{"m":"LH*","c":"HC","v":2,"j":0.38},
{"m":"LH*","c":"HC","v":1,"j":-0.37},{"m":"LH*","c":"HC","v":1,"j":-0.29},{"m":"LH*","c":"HC","v":1,"j":-0.2},{"m":"LH*","c":"HC","v":1,"j":-0.11},{"m":"LH*","c":"HC","v":1,"j":-0.03},{"m":"LH*","c":"HC","v":1,"j":0.06},{"m":"LH*","c":"HC","v":1,"j":0.14},{"m":"LH*","c":"HC","v":1,"j":0.23},{"m":"LH*","c":"HC","v":1,"j":0.31},{"m":"LH*","c":"HC","v":1,"j":0.39},
{"m":"LH*","c":"HC","v":0,"j":-0.4},{"m":"LH*","c":"HC","v":0,"j":-0.32},{"m":"LH*","c":"HC","v":0,"j":-0.24},{"m":"LH*","c":"HC","v":0,"j":-0.15},{"m":"LH*","c":"HC","v":0,"j":-0.07},{"m":"LH*","c":"HC","v":0,"j":0.02},{"m":"LH*","c":"HC","v":0,"j":0.1},{"m":"LH*","c":"HC","v":0,"j":0.18},{"m":"LH*","c":"HC","v":0,"j":0.27},{"m":"LH*","c":"HC","v":0,"j":0.36},

{"m":"Norepinephrine","c":"CFS","v":1,"j":-0.39},{"m":"Norepinephrine","c":"CFS","v":1,"j":-0.3},{"m":"Norepinephrine","c":"CFS","v":1,"j":-0.22},{"m":"Norepinephrine","c":"CFS","v":1,"j":-0.13},{"m":"Norepinephrine","c":"CFS","v":1,"j":-0.05},{"m":"Norepinephrine","c":"CFS","v":1,"j":0.04},{"m":"Norepinephrine","c":"CFS","v":1,"j":0.12},{"m":"Norepinephrine","c":"CFS","v":1,"j":0.21},{"m":"Norepinephrine","c":"CFS","v":1,"j":0.3},{"m":"Norepinephrine","c":"CFS","v":1,"j":0.38},
{"m":"Norepinephrine","c":"CFS","v":0,"j":-0.37},{"m":"Norepinephrine","c":"CFS","v":0,"j":-0.29},{"m":"Norepinephrine","c":"CFS","v":0,"j":-0.2},{"m":"Norepinephrine","c":"CFS","v":0,"j":-0.11},{"m":"Norepinephrine","c":"CFS","v":0,"j":-0.03},{"m":"Norepinephrine","c":"CFS","v":0,"j":0.06},{"m":"Norepinephrine","c":"CFS","v":0,"j":0.14},{"m":"Norepinephrine","c":"CFS","v":0,"j":0.23},{"m":"Norepinephrine","c":"CFS","v":0,"j":0.31},{"m":"Norepinephrine","c":"CFS","v":0,"j":0.39},
{"m":"Norepinephrine","c":"HC","v":2,"j":-0.04},{"m":"Norepinephrine","c":"HC","v":2,"j":0.1},{"m":"Norepinephrine","c":"HC","v":2,"j":0.27},
{"m":"Norepinephrine","c":"HC","v":1,"j":-0.36},{"m":"Norepinephrine","c":"HC","v":1,"j":-0.16},{"m":"Norepinephrine","c":"HC","v":1,"j":-0.04},{"m":"Norepinephrine","c":"HC","v":1,"j":0.02},{"m":"Norepinephrine","c":"HC","v":1,"j":0.14},{"m":"Norepinephrine","c":"HC","v":1,"j":0.38},
{"m":"Norepinephrine","c":"HC","v":0,"j":-0.39},{"m":"Norepinephrine","c":"HC","v":0,"j":-0.3},{"m":"Norepinephrine","c":"HC","v":0,"j":-0.22},{"m":"Norepinephrine","c":"HC","v":0,"j":-0.13},{"m":"Norepinephrine","c":"HC","v":0,"j":-0.05},{"m":"Norepinephrine","c":"HC","v":0,"j":0.04},{"m":"Norepinephrine","c":"HC","v":0,"j":0.12},{"m":"Norepinephrine","c":"HC","v":0,"j":0.21},{"m":"Norepinephrine","c":"HC","v":0,"j":0.3},{"m":"Norepinephrine","c":"HC","v":0,"j":0.38},

{"m":"Progesterone","c":"CFS","v":2,"j":-0.32},{"m":"Progesterone","c":"CFS","v":2,"j":0.1},{"m":"Progesterone","c":"CFS","v":2,"j":0.17},{"m":"Progesterone","c":"CFS","v":2,"j":0.39},
{"m":"Progesterone","c":"CFS","v":1,"j":-0.37},{"m":"Progesterone","c":"CFS","v":1,"j":-0.29},{"m":"Progesterone","c":"CFS","v":1,"j":-0.2},{"m":"Progesterone","c":"CFS","v":1,"j":-0.11},{"m":"Progesterone","c":"CFS","v":1,"j":-0.03},{"m":"Progesterone","c":"CFS","v":1,"j":0.06},{"m":"Progesterone","c":"CFS","v":1,"j":0.14},{"m":"Progesterone","c":"CFS","v":1,"j":0.23},{"m":"Progesterone","c":"CFS","v":1,"j":0.31},{"m":"Progesterone","c":"CFS","v":1,"j":0.39},
{"m":"Progesterone","c":"CFS","v":0,"j":-0.4},{"m":"Progesterone","c":"CFS","v":0,"j":-0.32},{"m":"Progesterone","c":"CFS","v":0,"j":-0.24},{"m":"Progesterone","c":"CFS","v":0,"j":-0.15},{"m":"Progesterone","c":"CFS","v":0,"j":-0.07},{"m":"Progesterone","c":"CFS","v":0,"j":0.02},{"m":"Progesterone","c":"CFS","v":0,"j":0.1},{"m":"Progesterone","c":"CFS","v":0,"j":0.18},{"m":"Progesterone","c":"CFS","v":0,"j":0.27},{"m":"Progesterone","c":"CFS","v":0,"j":0.36},
{"m":"Progesterone","c":"HC","v":2,"j":-0.39},{"m":"Progesterone","c":"HC","v":2,"j":-0.3},{"m":"Progesterone","c":"HC","v":2,"j":-0.22},{"m":"Progesterone","c":"HC","v":2,"j":-0.13},{"m":"Progesterone","c":"HC","v":2,"j":-0.05},{"m":"Progesterone","c":"HC","v":2,"j":0.04},{"m":"Progesterone","c":"HC","v":2,"j":0.12},{"m":"Progesterone","c":"HC","v":2,"j":0.21},{"m":"Progesterone","c":"HC","v":2,"j":0.3},{"m":"Progesterone","c":"HC","v":2,"j":0.38},
{"m":"Progesterone","c":"HC","v":1,"j":-0.37},{"m":"Progesterone","c":"HC","v":1,"j":-0.29},{"m":"Progesterone","c":"HC","v":1,"j":-0.2},{"m":"Progesterone","c":"HC","v":1,"j":-0.11},{"m":"Progesterone","c":"HC","v":1,"j":-0.03},{"m":"Progesterone","c":"HC","v":1,"j":0.06},{"m":"Progesterone","c":"HC","v":1,"j":0.14},{"m":"Progesterone","c":"HC","v":1,"j":0.23},{"m":"Progesterone","c":"HC","v":1,"j":0.31},{"m":"Progesterone","c":"HC","v":1,"j":0.39},
{"m":"Progesterone","c":"HC","v":0,"j":-0.4},{"m":"Progesterone","c":"HC","v":0,"j":-0.32},{"m":"Progesterone","c":"HC","v":0,"j":-0.24},{"m":"Progesterone","c":"HC","v":0,"j":-0.15},{"m":"Progesterone","c":"HC","v":0,"j":-0.07},{"m":"Progesterone","c":"HC","v":0,"j":0.02},{"m":"Progesterone","c":"HC","v":0,"j":0.1},{"m":"Progesterone","c":"HC","v":0,"j":0.18},{"m":"Progesterone","c":"HC","v":0,"j":0.27},{"m":"Progesterone","c":"HC","v":0,"j":0.36},

{"m":"TNF-α","c":"CFS","v":1,"j":-0.4},{"m":"TNF-α","c":"CFS","v":1,"j":-0.32},{"m":"TNF-α","c":"CFS","v":1,"j":-0.24},{"m":"TNF-α","c":"CFS","v":1,"j":-0.15},{"m":"TNF-α","c":"CFS","v":1,"j":-0.07},{"m":"TNF-α","c":"CFS","v":1,"j":0.02},{"m":"TNF-α","c":"CFS","v":1,"j":0.1},{"m":"TNF-α","c":"CFS","v":1,"j":0.18},{"m":"TNF-α","c":"CFS","v":1,"j":0.27},{"m":"TNF-α","c":"CFS","v":1,"j":0.36},
{"m":"TNF-α","c":"CFS","v":0,"j":-0.39},{"m":"TNF-α","c":"CFS","v":0,"j":-0.3},{"m":"TNF-α","c":"CFS","v":0,"j":-0.22},{"m":"TNF-α","c":"CFS","v":0,"j":-0.13},{"m":"TNF-α","c":"CFS","v":0,"j":-0.05},{"m":"TNF-α","c":"CFS","v":0,"j":0.04},{"m":"TNF-α","c":"CFS","v":0,"j":0.12},{"m":"TNF-α","c":"CFS","v":0,"j":0.21},{"m":"TNF-α","c":"CFS","v":0,"j":0.3},{"m":"TNF-α","c":"CFS","v":0,"j":0.38},
{"m":"TNF-α","c":"HC","v":1,"j":-0.37},{"m":"TNF-α","c":"HC","v":1,"j":-0.29},{"m":"TNF-α","c":"HC","v":1,"j":-0.2},{"m":"TNF-α","c":"HC","v":1,"j":-0.11},{"m":"TNF-α","c":"HC","v":1,"j":-0.03},{"m":"TNF-α","c":"HC","v":1,"j":0.06},{"m":"TNF-α","c":"HC","v":1,"j":0.14},{"m":"TNF-α","c":"HC","v":1,"j":0.23},{"m":"TNF-α","c":"HC","v":1,"j":0.31},{"m":"TNF-α","c":"HC","v":1,"j":0.39},
{"m":"TNF-α","c":"HC","v":0,"j":-0.4},{"m":"TNF-α","c":"HC","v":0,"j":-0.32},{"m":"TNF-α","c":"HC","v":0,"j":-0.24},{"m":"TNF-α","c":"HC","v":0,"j":-0.15},{"m":"TNF-α","c":"HC","v":0,"j":-0.07},{"m":"TNF-α","c":"HC","v":0,"j":0.02},{"m":"TNF-α","c":"HC","v":0,"j":0.1},{"m":"TNF-α","c":"HC","v":0,"j":0.18},{"m":"TNF-α","c":"HC","v":0,"j":0.27},{"m":"TNF-α","c":"HC","v":0,"j":0.36}
]},
"spacing": 6,
"resolve": {"scale": {"stroke": "independent", "fill": "independent"}, "legend": {"stroke": "independent", "fill": "independent"}},
"hconcat": [
{
  "transform": [{"filter": {"field": "m", "oneOf": ["ACTH*","B cell","Cortisol","CRH*","Dopamine","Estrogen*","FSH*","GnRH1*","IL-10*","IL-12","IL-17A*","IL-1A*","LH*","Norepinephrine","Progesterone","TNF-α"]}}],
  "facet": {"field": "m", "type": "nominal", "sort": ["ACTH*","B cell","Cortisol","CRH*","Dopamine","Estrogen*","FSH*","GnRH1*","IL-10*","IL-12","IL-17A*","IL-1A*","LH*","Norepinephrine","Progesterone","TNF-α"], "header": {"title": null, "labels": false, "labelExpr": "''", "labelFontSize": 1, "labelPadding": 0}},
  "columns": 4,
  "spacing": {"row": 6, "column": 6},
  "spec": {
    "width": 120,
    "height": 106,
    "layer": [
      {
        "transform": [{"filter": "datum.c == 'CFS' && isValid(datum.q1)"}],
        "mark": {"type": "rect", "color": "#D9D9D9"},
        "encoding": {"y": {"datum": 2.1, "type": "quantitative", "title": null}, "y2": {"datum": 2.744}}
      },
      {
        "transform": [{"filter": "datum.c == 'CFS' && isValid(datum.q1)"}],
        "mark": {"type": "text", "font": "Liberation Sans", "fontSize": 15, "fontWeight": "bold", "color": "#1A1A1A", "baseline": "middle"},
        "encoding": {"y": {"datum": 2.43, "type": "quantitative", "title": null}, "text": {"field": "m", "type": "nominal"}}
      },
      {
        "transform": [{"filter": "isValid(datum.q1)"}],
        "mark": {"type": "bar", "filled": false, "width": {"band": 0.75}, "strokeWidth": 1.2},
        "encoding": {
          "x": {"field": "c", "type": "nominal", "title": null, "scale": {"type": "band", "domain": ["CFS", "HC"], "paddingInner": 0, "paddingOuter": 0.1},
                "axis": {"bandPosition": 0.5, "labelAngle": 0, "domain": false, "tickSize": 3, "tickColor": "#333333", "labelPadding": 2, "gridColor": "#FFFFFF", "gridWidth": 1.1, "labelFont": "Liberation Sans", "labelFontSize": 15, "labelFontWeight": "bold", "labelColor": "#4D4D4D"}},
          "y": {"field": "q1", "type": "quantitative", "title": null,
                "scale": {"domain": [-0.1, 2.744], "nice": false, "zero": false},
                "axis": {"values": [0, 0.25, 0.5, 0.75, 1, 1.25, 1.5, 1.75, 2], "labelExpr": "datum.value % 0.5 == 0 ? format(datum.value, '.1f') : ''", "domain": false, "tickSize": 3, "tickColor": "#333333", "tickOpacity": {"condition": {"test": "datum.value % 0.5 == 0", "value": 1}, "value": 0}, "labelPadding": 2, "gridColor": "#FFFFFF", "gridWidth": {"condition": {"test": "datum.value % 0.5 == 0", "value": 1.1}, "value": 0.55}, "labelFont": "Liberation Sans", "labelFontSize": 15, "labelFontWeight": "bold", "labelColor": "#4D4D4D", "labelOverlap": false, "labelFlush": false}},
          "y2": {"field": "q3"},
          "stroke": {"field": "c", "type": "nominal", "scale": {"domain": ["CFS", "HC"], "range": ["#D63636", "#1A1AFF"]}, "legend": null}
        }
      },
      {
        "transform": [{"filter": "isValid(datum.q1)"}],
        "mark": {"type": "bar", "filled": false, "width": {"band": 0.75}, "strokeWidth": 1.2},
        "encoding": {"x": {"field": "c", "type": "nominal"}, "y": {"field": "md", "type": "quantitative", "title": null}, "y2": {"field": "md"}, "stroke": {"field": "c", "type": "nominal"}}
      },
      {
        "transform": [{"filter": "isValid(datum.q1)"}],
        "mark": {"type": "rule", "strokeWidth": 1.2},
        "encoding": {"x": {"field": "c", "type": "nominal"}, "y": {"field": "q3", "type": "quantitative", "title": null}, "y2": {"field": "hi"}, "stroke": {"field": "c", "type": "nominal"}}
      },
      {
        "transform": [{"filter": "isValid(datum.q1)"}],
        "mark": {"type": "rule", "strokeWidth": 1.2},
        "encoding": {"x": {"field": "c", "type": "nominal"}, "y": {"field": "lo", "type": "quantitative", "title": null}, "y2": {"field": "q1"}, "stroke": {"field": "c", "type": "nominal"}}
      },
      {
        "transform": [{"filter": "isValid(datum.j)"}],
        "mark": {"type": "circle", "size": 22, "opacity": 0.8},
        "encoding": {
          "x": {"field": "c", "type": "nominal"},
          "xOffset": {"field": "j", "type": "quantitative", "scale": {"domain": [-0.5, 0.5]}},
          "y": {"field": "v", "type": "quantitative", "title": null},
          "fill": {"field": "c", "type": "nominal", "scale": {"domain": ["CFS", "HC"], "range": ["#CC2222", "#1A1AFF"]}, "legend": null}
        }
      }
    ]
  }
},
{
  "transform": [{"filter": {"field": "m", "oneOf": ["CXCL8*","IFN-γ*","IL-23*"]}}],
  "facet": {"field": "m", "type": "nominal", "sort": ["CXCL8*","IFN-γ*","IL-23*"], "header": {"title": null, "labels": false, "labelExpr": "''", "labelFontSize": 1, "labelPadding": 0}},
  "columns": 1,
  "spacing": {"row": 6, "column": 6},
  "spec": {
    "width": 120,
    "height": 106,
    "layer": [
      {
        "transform": [{"filter": "datum.c == 'CFS' && isValid(datum.q1)"}],
        "mark": {"type": "rect", "color": "#D9D9D9"},
        "encoding": {"y": {"datum": 2.1, "type": "quantitative", "title": null}, "y2": {"datum": 2.744}}
      },
      {
        "transform": [{"filter": "datum.c == 'CFS' && isValid(datum.q1)"}],
        "mark": {"type": "text", "font": "Liberation Sans", "fontSize": 15, "fontWeight": "bold", "color": "#1A1A1A", "baseline": "middle"},
        "encoding": {"y": {"datum": 2.43, "type": "quantitative", "title": null}, "text": {"field": "m", "type": "nominal"}}
      },
      {
        "transform": [{"filter": "isValid(datum.q1)"}],
        "mark": {"type": "bar", "filled": false, "width": {"band": 0.75}, "strokeWidth": 1.2},
        "encoding": {
          "x": {"field": "c", "type": "nominal", "title": null, "scale": {"type": "band", "domain": ["CFS", "HC"], "paddingInner": 0, "paddingOuter": 0.1},
                "axis": {"bandPosition": 0.5, "labelAngle": 0, "domain": false, "tickSize": 3, "tickColor": "#333333", "labelPadding": 2, "gridColor": "#FFFFFF", "gridWidth": 1.1, "labelFont": "Liberation Sans", "labelFontSize": 15, "labelFontWeight": "bold", "labelColor": "#4D4D4D"}},
          "y": {"field": "q1", "type": "quantitative", "title": null,
                "scale": {"domain": [-0.1, 2.744], "nice": false, "zero": false},
                "axis": {"values": [0, 0.25, 0.5, 0.75, 1, 1.25, 1.5, 1.75, 2], "labels": false, "ticks": false, "domain": false, "gridColor": "#FFFFFF", "gridWidth": {"condition": {"test": "datum.value % 0.5 == 0", "value": 1.1}, "value": 0.55}, "minExtent": 0, "maxExtent": 0}},
          "y2": {"field": "q3"},
          "stroke": {"field": "c", "type": "nominal", "scale": {"domain": ["CFS", "HC"], "range": ["#D63636", "#1A1AFF"]},
            "legend": {"title": "Condition", "orient": "none", "legendX": 140, "legendY": 203,
              "titleFont": "Liberation Sans", "titleFontSize": 19, "titleFontWeight": "bold", "titleColor": "#000000", "titlePadding": 10,
              "labelFont": "Liberation Sans", "labelFontSize": 15, "labelFontWeight": "bold", "labelColor": "#000000", "labelOffset": 12,
              "labelExpr": "datum.label == 'CFS' ? 'ME/CFS' : datum.label",
              "symbolType": "M-0.75,-0.5H0.75V0.5H-0.75Z M-0.75,0H0.75 M0,-0.5V-0.95 M0,0.5V0.95",
              "symbolSize": 289, "symbolStrokeWidth": 1, "symbolFillColor": "transparent", "rowPadding": 2,
              "encode": {"symbols": {"update": {"fill": {"value": "transparent"}, "strokeWidth": {"value": 1}}}}}}
        }
      },
      {
        "transform": [{"filter": "isValid(datum.q1)"}],
        "mark": {"type": "bar", "filled": false, "width": {"band": 0.75}, "strokeWidth": 1.2},
        "encoding": {"x": {"field": "c", "type": "nominal"}, "y": {"field": "md", "type": "quantitative", "title": null}, "y2": {"field": "md"}, "stroke": {"field": "c", "type": "nominal"}}
      },
      {
        "transform": [{"filter": "isValid(datum.q1)"}],
        "mark": {"type": "rule", "strokeWidth": 1.2},
        "encoding": {"x": {"field": "c", "type": "nominal"}, "y": {"field": "q3", "type": "quantitative", "title": null}, "y2": {"field": "hi"}, "stroke": {"field": "c", "type": "nominal"}}
      },
      {
        "transform": [{"filter": "isValid(datum.q1)"}],
        "mark": {"type": "rule", "strokeWidth": 1.2},
        "encoding": {"x": {"field": "c", "type": "nominal"}, "y": {"field": "lo", "type": "quantitative", "title": null}, "y2": {"field": "q1"}, "stroke": {"field": "c", "type": "nominal"}}
      },
      {
        "transform": [{"filter": "isValid(datum.j)"}],
        "mark": {"type": "circle", "size": 22, "opacity": 0.8},
        "encoding": {
          "x": {"field": "c", "type": "nominal"},
          "xOffset": {"field": "j", "type": "quantitative", "scale": {"domain": [-0.5, 0.5]}},
          "y": {"field": "v", "type": "quantitative", "title": null},
          "fill": {"field": "c", "type": "nominal", "scale": {"domain": ["CFS", "HC"], "range": ["#CC2222", "#1A1AFF"]}, "legend": null}
        }
      }
    ]
  }
}
],
"config": {
  "view": {"fill": "#EBEBEB", "stroke": null},
  "font": "Liberation Sans",
  "header": {"labels": false, "title": null, "labelPadding": 0},
  "headerFacet": {"labels": false, "title": null, "labelPadding": 0},
  "headerColumn": {"labels": false, "title": null, "labelPadding": 0},
  "headerRow": {"labels": false, "title": null, "labelPadding": 0}
}
}
